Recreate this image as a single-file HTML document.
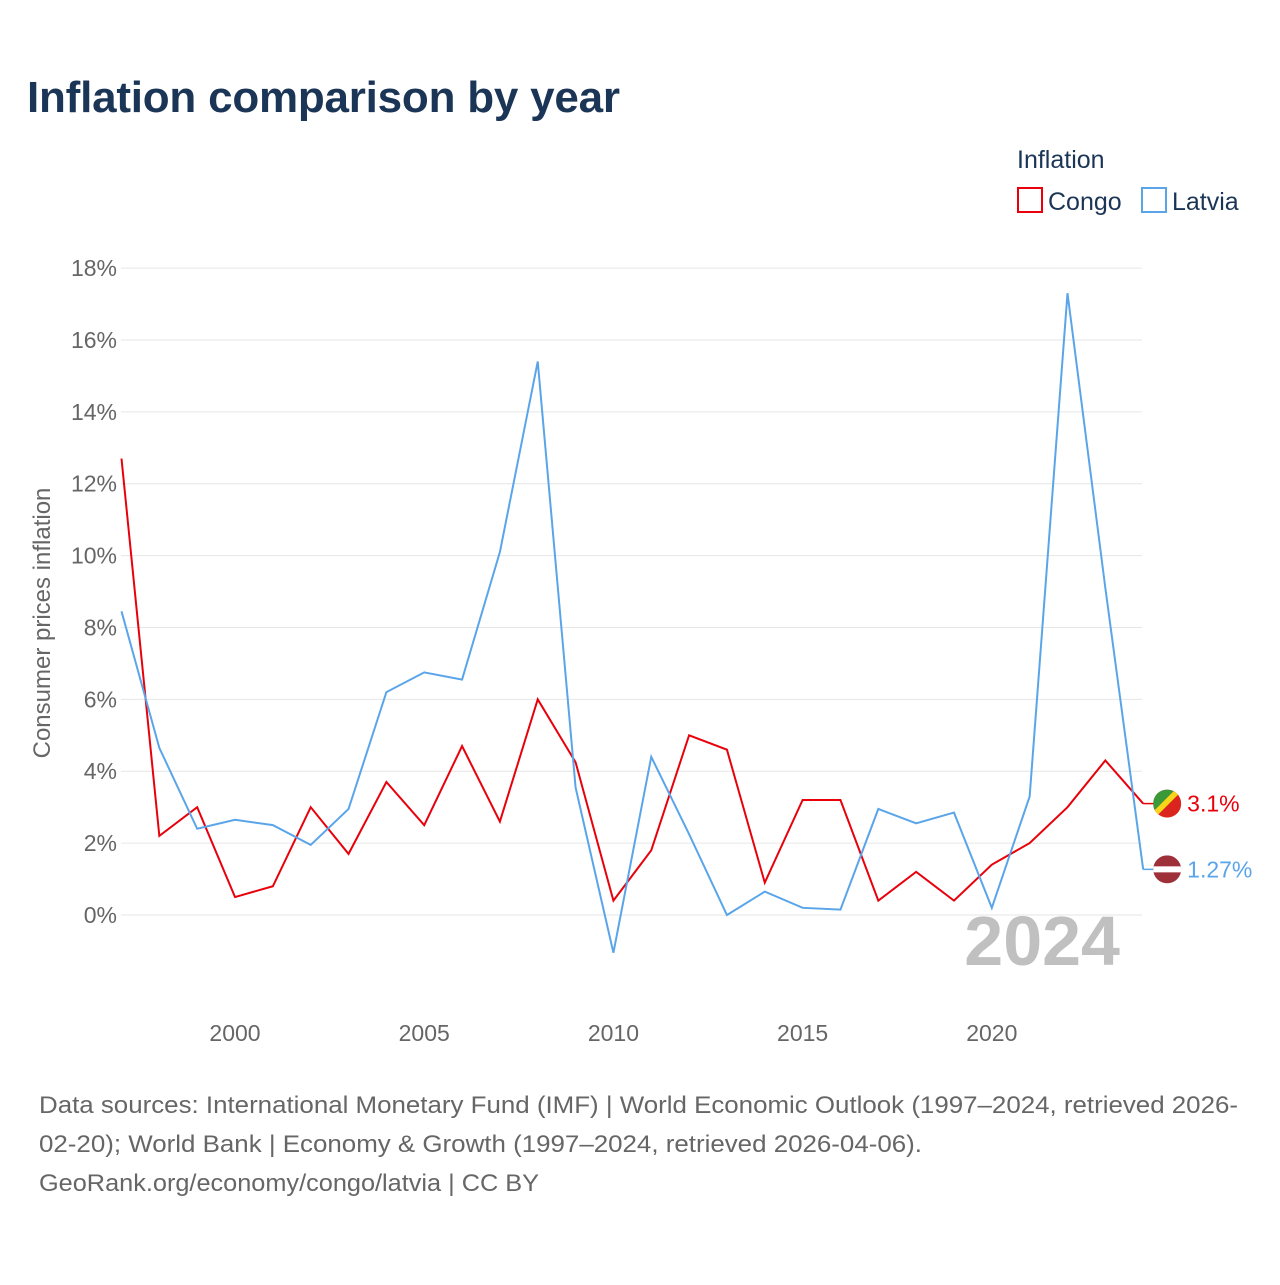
<!DOCTYPE html>
<html><head><meta charset="utf-8"><style>
body{margin:0;background:#fff;font-family:"Liberation Sans",sans-serif;}
svg text{font-family:"Liberation Sans",sans-serif;}
</style></head><body>
<svg width="1280" height="1280" viewBox="0 0 1280 1280" xmlns="http://www.w3.org/2000/svg">
<rect width="1280" height="1280" fill="#fff"/>
<text x="27" y="112" font-size="44" font-weight="bold" fill="#1b3556" textLength="593">Inflation comparison by year</text>
<text x="1017" y="168" font-size="25" fill="#1b3556">Inflation</text>
<g><rect x="1018" y="188" width="24" height="24" fill="none" stroke="#e8000b" stroke-width="2"/><text x="1048" y="210" font-size="25" fill="#1b3556">Congo</text></g>
<g><rect x="1142" y="188" width="24" height="24" fill="none" stroke="#5aa5ea" stroke-width="2"/><text x="1172" y="210" font-size="25" fill="#1b3556">Latvia</text></g>
<g id="grid"></g><g id="xt"></g><g id="series"></g>
<text x="1120" y="965" font-size="70" font-weight="bold" fill="#c0c0c0" text-anchor="end">2024</text>
<text transform="translate(50,623) rotate(-90)" font-size="24" fill="#666" text-anchor="middle">Consumer prices inflation</text>
<g font-size="24" fill="#666">
<text x="39" y="1113" textLength="1199" lengthAdjust="spacingAndGlyphs">Data sources: International Monetary Fund (IMF) | World Economic Outlook (1997–2024, retrieved 2026-</text>
<text x="39" y="1152" textLength="883" lengthAdjust="spacingAndGlyphs">02-20); World Bank | Economy &amp; Growth (1997–2024, retrieved 2026-04-06).</text>
<text x="39" y="1191" textLength="500" lengthAdjust="spacingAndGlyphs">GeoRank.org/economy/congo/latvia | CC BY</text>
</g>
</svg>
<script>
const years=[1997,1998,1999,2000,2001,2002,2003,2004,2005,2006,2007,2008,2009,2010,2011,2012,2013,2014,2015,2016,2017,2018,2019,2020,2021,2022,2023,2024];
const congo=[12.7,2.2,3.0,0.5,0.8,3.0,1.7,3.7,2.5,4.7,2.6,6.0,4.25,0.4,1.8,5.0,4.6,0.9,3.2,3.2,0.4,1.2,0.4,1.4,2.0,3.0,4.3,3.1];
const latvia=[8.45,4.65,2.4,2.65,2.5,1.95,2.95,6.2,6.75,6.55,10.1,15.4,3.55,-1.05,4.4,2.25,0.0,0.65,0.2,0.15,2.95,2.55,2.85,0.2,3.3,17.3,9.1,1.27];
const yTicks=[0,2,4,6,8,10,12,14,16,18];
const xTicks=[2000,2005,2010,2015,2020];
const NS="http://www.w3.org/2000/svg";
const X=y=>121.5+(y-1997)*37.84;
const Y=v=>915-v*35.94;
function mk(t,a,p){const e=document.createElementNS(NS,t);for(const k in a)e.setAttribute(k,a[k]);p.appendChild(e);return e;}
const g=document.getElementById('grid');
yTicks.forEach(v=>{
 const l=mk('line',{x1:121,x2:1142,y1:Y(v),y2:Y(v),stroke:'#e6e6e6','stroke-width':1},g);
 
 
 const t=mk('text',{x:117,y:Y(v)+8,'font-size':23,fill:'#666','text-anchor':'end'},g);
 t.textContent=v+'%';
 
 
});
const xg=document.getElementById('xt');
xTicks.forEach(y=>{
 const t=mk('text',{x:X(y),y:1041,'font-size':23,fill:'#666','text-anchor':'middle'},xg);
 t.textContent=y;
 
 
});
const sg=document.getElementById('series');
function series(vals,color,name,label,flag){
 const pts=vals.map((v,i)=>X(years[i])+','+Y(v)).join(' ');
 const p=mk('polyline',{points:pts,fill:'none',stroke:color,'stroke-width':2,'stroke-linejoin':'miter'},sg);
 
 
 const last=vals[vals.length-1],lx=X(years[years.length-1]),ly=Y(last);
 mk('line',{x1:lx,y1:ly,x2:lx+12,y2:ly,stroke:color,'stroke-width':1.5},sg);
 const fg=mk('g',{},sg);
 
 
 const cx=lx+24,cy=ly;
 const cid='c'+name;
 const cp=mk('clipPath',{id:cid},fg);mk('circle',{cx:cx,cy:cy,r:14},cp);
 const inner=mk('g',{'clip-path':'url(#'+cid+')'},fg);
 flag(inner,cx,cy);
 const t=mk('text',{x:cx+20,y:cy+8,'font-size':23,fill:color},sg);
 t.textContent=label;
 
 
}
series(congo,'#e8000b','congo','3.1%',(p,cx,cy)=>{
 mk('rect',{x:cx-14,y:cy-14,width:28,height:28,fill:'#dc241f'},p);
 mk('polygon',{points:`${cx-14},${cy-14} ${cx+8},${cy-14} ${cx-14},${cy+8}`,fill:'#3a9a3a'},p);
 mk('polygon',{points:`${cx+8},${cy-14} ${cx+16},${cy-14} ${cx-14},${cy+16} ${cx-14},${cy+8}`,fill:'#f7d618'},p);
});
series(latvia,'#5aa5ea','latvia','1.27%',(p,cx,cy)=>{
 mk('rect',{x:cx-14,y:cy-14,width:28,height:28,fill:'#9e3039'},p);
 mk('rect',{x:cx-14,y:cy-3,width:28,height:6,fill:'#fff'},p);
});
</script>
</body></html>
